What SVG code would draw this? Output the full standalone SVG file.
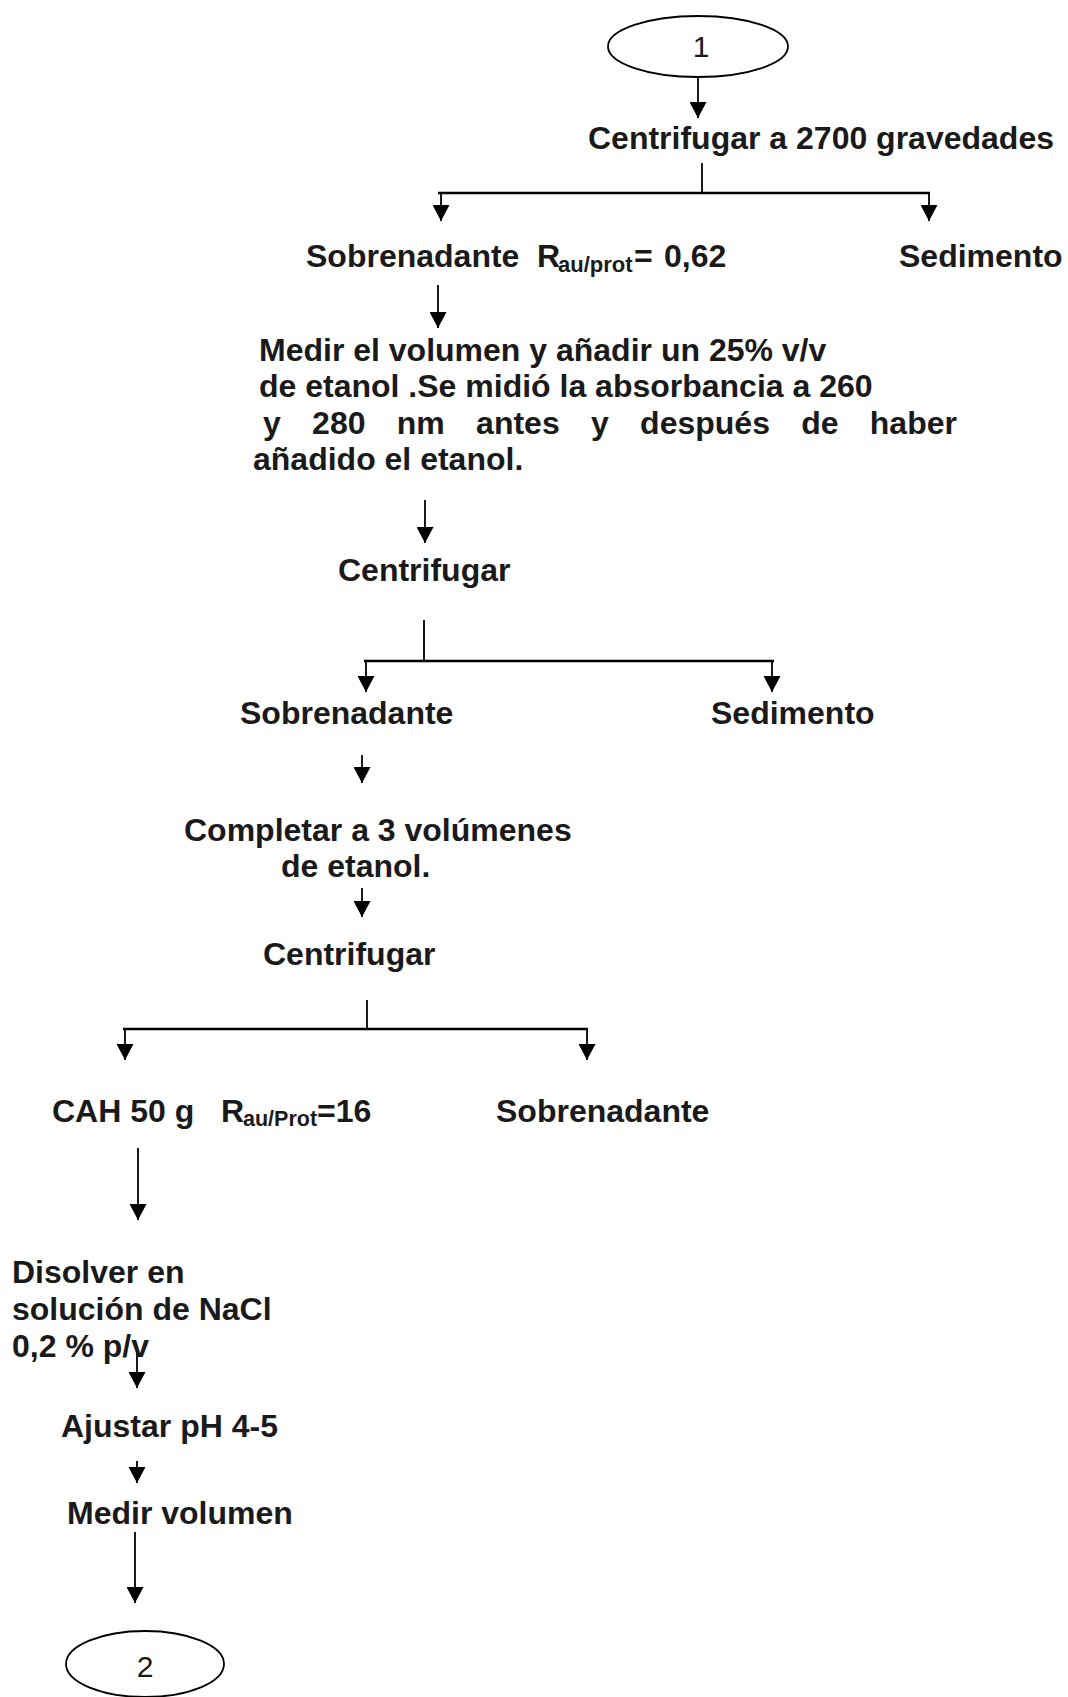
<svg xmlns="http://www.w3.org/2000/svg" width="1068" height="1697" viewBox="0 0 1068 1697">
<defs>
<style>
.t{font-family:"Liberation Sans",Arial,sans-serif;font-weight:bold;font-size:32px;fill:#1a1a1a}
.s{font-size:22px}
.s2{font-size:21.5px}
.n{font-family:"Liberation Sans",Arial,sans-serif;font-size:30px;fill:#1a1a1a;text-anchor:middle}
.c{stroke:#000;stroke-width:1.8;fill:none}
.a{marker-end:url(#ah)}
.h{stroke-width:2.5}
.e{fill:#fff;stroke:#000;stroke-width:1.8}
</style>
<marker id="ah" markerUnits="userSpaceOnUse" markerWidth="17" markerHeight="17" refX="16" refY="8.5" orient="auto">
<path d="M0,0 L16,8.5 L0,17 z" fill="#000"/>
</marker>
</defs>
<rect width="1068" height="1697" fill="#fff"/>
<g id="connectors">
<line class="c a" x1="698" y1="77" x2="698" y2="118"/>
<line class="c" x1="702" y1="163" x2="702" y2="193"/>
<line class="c h" x1="438" y1="193" x2="930" y2="193"/>
<line class="c a" x1="441" y1="193" x2="441" y2="221"/>
<line class="c a" x1="929" y1="193" x2="929" y2="221"/>
<line class="c a" x1="438" y1="285" x2="438" y2="328"/>
<line class="c a" x1="425" y1="500" x2="425" y2="543"/>
<line class="c" x1="424" y1="620" x2="424" y2="661"/>
<line class="c h" x1="364" y1="661" x2="774" y2="661"/>
<line class="c a" x1="366" y1="661" x2="366" y2="692"/>
<line class="c a" x1="772" y1="661" x2="772" y2="692"/>
<line class="c a" x1="362" y1="755" x2="362" y2="783"/>
<line class="c a" x1="362" y1="888" x2="362" y2="917"/>
<line class="c" x1="367" y1="1000" x2="367" y2="1029"/>
<line class="c h" x1="123" y1="1029" x2="588" y2="1029"/>
<line class="c a" x1="125" y1="1029" x2="125" y2="1060"/>
<line class="c a" x1="587" y1="1029" x2="587" y2="1060"/>
<line class="c a" x1="138" y1="1148" x2="138" y2="1220"/>
<line class="c a" x1="137" y1="1348" x2="137" y2="1388"/>
<line class="c a" x1="137" y1="1461" x2="137" y2="1483"/>
<line class="c a" x1="135" y1="1532" x2="135" y2="1603"/>
</g>
<g id="start1">
<ellipse class="e" cx="698" cy="46.5" rx="90" ry="30.5"/>
<text class="n" x="701" y="57">1</text>
</g>
<g id="centrifugar1">
<text class="t" x="588" y="149">Centrifugar a 2700 gravedades</text>
</g>
<g id="sobrenadante1">
<text class="t" x="306" y="267">Sobrenadante</text>
<text class="t" x="537" y="267">R<tspan class="s" x="558" y="272">au/prot</tspan><tspan x="634" y="267">=</tspan><tspan x="664" y="267">0,62</tspan></text>
</g>
<g id="sedimento1">
<text class="t" x="899" y="267">Sedimento</text>
</g>
<g id="medir1">
<text class="t" x="259" y="361">Medir el volumen y añadir un 25% v/v</text>
<text class="t" x="259" y="397">de etanol .Se midió la absorbancia a 260</text>
<text class="t" y="434"><tspan x="263">y</tspan><tspan x="312.1">280</tspan><tspan x="396.8">nm</tspan><tspan x="476.1">antes</tspan><tspan x="591">y</tspan><tspan x="640.1">después</tspan><tspan x="801.2">de</tspan><tspan x="869.8">haber</tspan></text>
<text class="t" x="253" y="470">añadido el etanol.</text>
</g>
<g id="centrifugar2">
<text class="t" x="338" y="581">Centrifugar</text>
</g>
<g id="sobrenadante2">
<text class="t" x="240" y="724">Sobrenadante</text>
</g>
<g id="sedimento2">
<text class="t" x="711" y="724">Sedimento</text>
</g>
<g id="completar">
<text class="t" x="184" y="841">Completar a 3 volúmenes</text>
<text class="t" x="281" y="877">de etanol.</text>
</g>
<g id="centrifugar3">
<text class="t" x="263" y="965">Centrifugar</text>
</g>
<g id="cah">
<text class="t" x="52" y="1122">CAH 50 g</text>
<text class="t" x="221" y="1122">R<tspan class="s2" x="243" y="1126">au/Prot</tspan><tspan x="317" y="1122">=16</tspan></text>
</g>
<g id="sobrenadante3">
<text class="t" x="496" y="1122">Sobrenadante</text>
</g>
<g id="disolver">
<text class="t" x="12" y="1283">Disolver en</text>
<text class="t" x="12" y="1320">solución de NaCl</text>
<text class="t" x="12" y="1357">0,2 % p/v</text>
</g>
<g id="ajustar">
<text class="t" x="61" y="1437">Ajustar pH 4-5</text>
</g>
<g id="medir2">
<text class="t" x="67" y="1524">Medir volumen</text>
</g>
<g id="end2">
<ellipse class="e" cx="145" cy="1664" rx="79" ry="33"/>
<text class="n" x="145" y="1677">2</text>
</g>
</svg>
